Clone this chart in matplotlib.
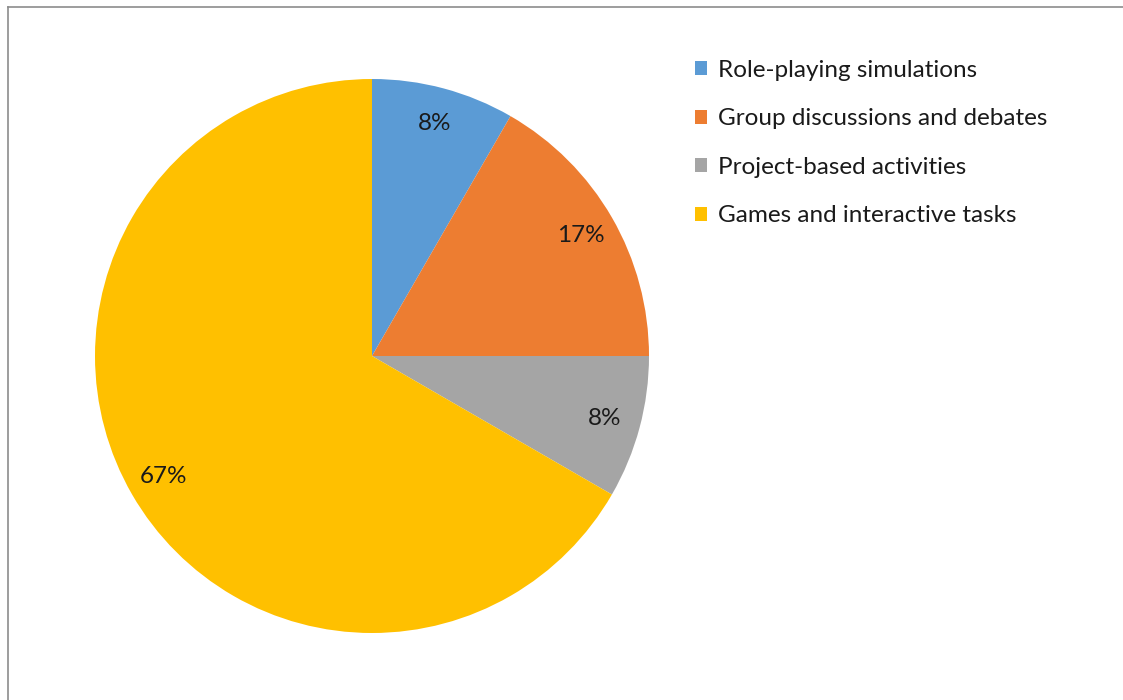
import matplotlib
matplotlib.use("Agg")
import matplotlib.pyplot as plt
from matplotlib.lines import Line2D

# activity shares (counts of responses)
categories = ["Role-playing simulations", "Group discussions and debates",
              "Project-based activities", "Games and interactive tasks"]
counts = [1, 2, 1, 8]
colors = ["#5B9BD5", "#ED7D31", "#A5A5A5", "#FFC000"]

plt.rcParams["font.family"] = ["Lato", "DejaVu Sans"]

W, H = 1123, 700
fig = plt.figure(figsize=(W / 100, H / 100), dpi=100)

# pie axes: centre (372, 356) px, radius 277 px
cx, cy, r = 372, 356, 277
ax = fig.add_axes([(cx - r) / W, (H - cy - r) / H, 2 * r / W, 2 * r / H])
wedges, _, pcts = ax.pie(counts, colors=colors, startangle=90, counterclock=False,
                         radius=1, autopct="%1.0f%%", pctdistance=0.87,
                         textprops=dict(fontsize=17.5, color="#1A1A1A"))
ax.set_xlim(-1, 1)
ax.set_ylim(-1, 1)
ax.set_aspect("equal")
ax.axis("off")

leg = fig.legend(wedges, categories, loc="upper left",
                 bbox_to_anchor=(695 / W, 1 - 60 / H), frameon=False,
                 borderpad=0, borderaxespad=0,
                 fontsize=17.5, handlelength=0.5, handleheight=0.5,
                 handletextpad=0.45, labelspacing=1.13)
for t in leg.get_texts():
    t.set_color("#1A1A1A")

# thin grey frame along top and left edge
fig.add_artist(Line2D([8 / W, 8 / W], [0, 1 - 7 / H], transform=fig.transFigure,
                      color="#8C8C8C", lw=1.2))
fig.add_artist(Line2D([8 / W, 1], [1 - 7 / H, 1 - 7 / H], transform=fig.transFigure,
                      color="#8C8C8C", lw=1.2))

fig.savefig("out.png", dpi=100, facecolor="white")
